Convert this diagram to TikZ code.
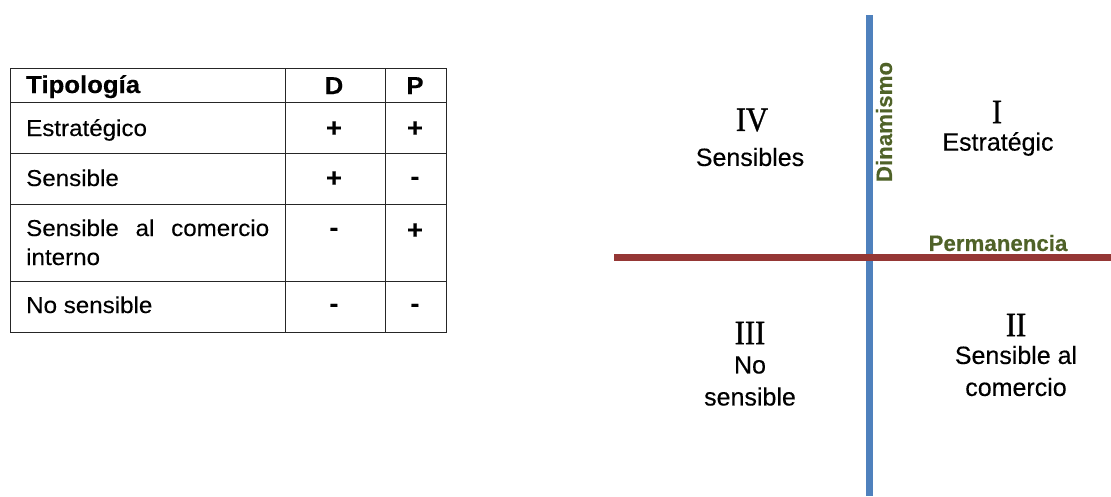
\documentclass[tikz,border=0pt]{standalone}
\usepackage{fontspec}
\setmainfont{Liberation Sans}[FakeBold=0.25]
\newfontfamily\tabfont{Liberation Sans}[FakeStretch=1.05,FakeBold=0.25]
\newfontfamily\numfont{Liberation Serif}[FakeStretch=0.9,FakeBold=0.9]
\definecolor{axisblue}{HTML}{4F81BD}
\definecolor{axisred}{HTML}{953735}
\definecolor{olive}{HTML}{4F6228}
\tikzset{
  grid line/.style={line width=1pt, draw=black!85},
  cell/.style={inner sep=0pt, font=\tabfont\fontsize{23}{29}\selectfont},
  headcell/.style={cell, font=\tabfont\bfseries\fontsize{24.5}{29}\selectfont},
  sign/.style={cell, font=\tabfont\bfseries\fontsize{26}{29}\selectfont},
  quad label/.style={inner sep=0pt, align=center, font=\fontsize{25}{32}\selectfont},
  numeral/.style={inner sep=0pt, font=\numfont\fontsize{34}{34}\selectfont},
  axis label/.style={inner sep=0pt, text=olive, font=\bfseries\fontsize{22.3}{22}\selectfont},
}
\begin{document}
\begin{tikzpicture}[x=1pt,y=-1pt]
\useasboundingbox (0,0) rectangle (1111,496);

% ---- table of typologies ----
\draw[grid line] (10,68) rectangle (446,332);
\foreach \y in {102,153,204,281} \draw[grid line] (10,\y) -- (446,\y);
\foreach \x in {285,385} \draw[grid line] (\x,68) -- (\x,332);

\node[headcell, anchor=base west] (hTip) at (26,93) {Tipología};
\node[headcell, anchor=base] (hD) at (334,94) {D};
\node[headcell, anchor=base] (hP) at (415,94) {P};

\node[cell, anchor=base west] (r1) at (26,136) {Estratégico};
\node[sign] (r1d) at (334,129) {+};
\node[sign] (r1p) at (415,129) {+};

\node[cell, anchor=base west] (r2) at (26,186) {Sensible};
\node[sign] (r2d) at (334,179) {+};
\node[sign] (r2p) at (415,181) {-};

\node[cell, anchor=base west] (r3a) at (26,236)
  {\hbox to 243pt{Sensible\hfill al\hfill comercio}};
\node[cell, anchor=base west] (r3b) at (26,265) {interno};
\node[sign] (r3d) at (334,232) {-};
\node[sign] (r3p) at (415,231) {+};

\node[cell, anchor=base west] (r4) at (26,313) {No sensible};
\node[sign] (r4d) at (334,308) {-};
\node[sign] (r4p) at (415,308) {-};

% ---- quadrant chart ----
\coordinate (vtop) at (869,15);
\coordinate (vbot) at (869,496);
\coordinate (hleft) at (614,257);
\coordinate (hright) at (1111,257);
\draw[axisblue, line width=7pt] (vtop) -- (vbot);
\draw[axisred, line width=7pt] (hleft) -- (hright);

\node[axis label, rotate=90] (dyn) at (884,122) {Dinamismo};
\node[axis label] (perm) at (998,243) {Permanencia};

\node[numeral] (q4n) at (752,120) {IV};
\node[quad label] (q4) at (750,157) {Sensibles};

\node[numeral] (q1n) at (997,112) {I};
\node[quad label] (q1) at (998,144) {Estratégic};

\node[numeral] (q3n) at (750,333) {III};
\node[quad label] (q3) at (750,381) {No\\sensible};

\node[numeral] (q2n) at (1016,325) {II};
\node[quad label] (q2) at (1016,371) {Sensible al\\comercio};
\end{tikzpicture}
\end{document}
